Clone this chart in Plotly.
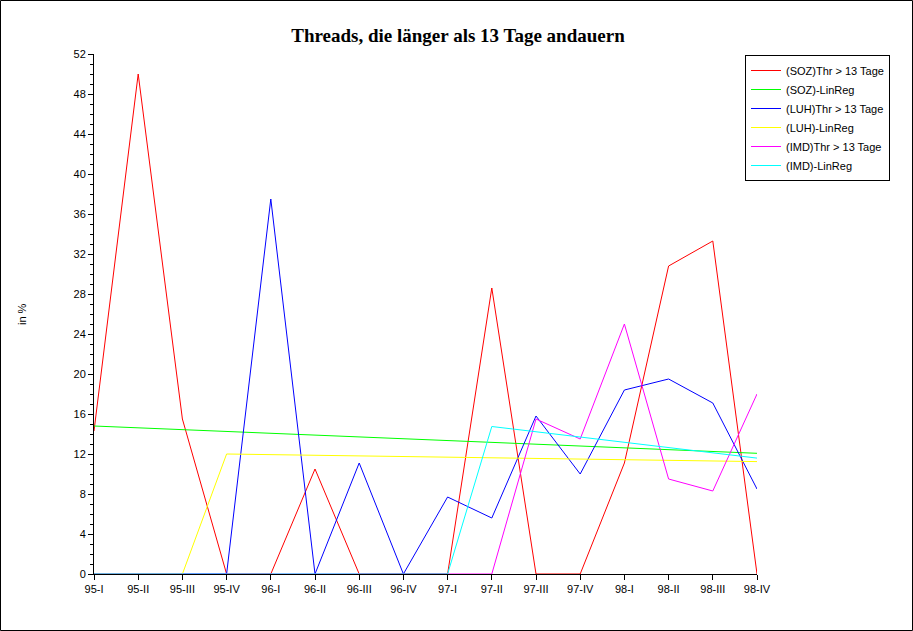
import plotly.graph_objects as go

quarters = ["95-I", "95-II", "95-III", "95-IV", "96-I", "96-II", "96-III", "96-IV",
            "97-I", "97-II", "97-III", "97-IV", "98-I", "98-II", "98-III", "98-IV"]

soz_thr = [14.3, 50.0, 15.5, 0, 0, 10.5, 0, 0, 0, 28.6, 0, 0, 11.1, 30.8, 33.3, 0]
soz_linreg = [14.8, 14.62, 14.44, 14.25, 14.07, 13.89, 13.71, 13.53,
              13.34, 13.16, 12.98, 12.80, 12.61, 12.43, 12.25, 12.07]
luh_thr = [0, 0, 0, 0, 37.5, 0, 11.1, 0, 7.7, 5.6, 15.8, 10.0, 18.4, 19.5, 17.1, 8.5]
luh_linreg = [0, 0, 0, 12.0, 11.94, 11.87, 11.81, 11.75, 11.68, 11.62,
              11.56, 11.49, 11.43, 11.37, 11.30, 11.24]
imd_thr = [0, 0, 0, 0, 0, 0, 0, 0, 0, 0, 15.5, 13.5, 25.0, 9.5, 8.3, 18.0]
imd_linreg = [0, 0, 0, 0, 0, 0, 0, 0, 0, 14.75, 14.22, 13.7, 13.17, 12.64, 12.12, 11.59]

series = [
    ("(SOZ)Thr > 13 Tage", soz_thr, "#FF0000"),
    ("(SOZ)-LinReg", soz_linreg, "#00FF00"),
    ("(LUH)Thr > 13 Tage", luh_thr, "#0000FF"),
    ("(LUH)-LinReg", luh_linreg, "#FFFF00"),
    ("(IMD)Thr > 13 Tage", imd_thr, "#FF00FF"),
    ("(IMD)-LinReg", imd_linreg, "#00FFFF"),
]

xs = list(range(len(quarters)))

fig = go.Figure()
for name, vals, color in series:
    fig.add_trace(go.Scatter(x=xs, y=vals, mode="lines", name=name,
                             line=dict(color=color, width=1)))

W, H = 913, 631
L, R, T, B = 94, 156, 54, 57
pw, ph = W - L - R, H - T - B

fig.update_layout(
    width=W, height=H,
    margin=dict(l=L, r=R, t=T, b=B, pad=0),
    paper_bgcolor="white", plot_bgcolor="white",
    title=dict(text="<b>Threads, die länger als 13 Tage andauern</b>",
               font=dict(family="Liberation Serif", size=19, color="black"),
               x=(458 - L) / pw, xref="paper", xanchor="center",
               y=1 - 35 / H, yanchor="middle"),
    font=dict(family="Liberation Sans", size=11, color="black"),
    showlegend=True,
    legend=dict(x=(890 - L) / pw, y=1 - (55 - T) / ph, xanchor="right", yanchor="top",
                bordercolor="black", borderwidth=1, bgcolor="white",
                font=dict(family="Liberation Sans", size=11, color="black"),
                itemwidth=30, tracegroupgap=0),
    xaxis=dict(range=[0, 15], tickvals=xs, ticktext=quarters,
               showgrid=False, zeroline=False, showline=True, linecolor="black",
               linewidth=1, ticks="outside", ticklen=5, tickcolor="black",
               tickfont=dict(size=11), layer="above traces"),
    yaxis=dict(range=[0, 52], dtick=4, tick0=0,
               showgrid=False, zeroline=False, showline=True, linecolor="black",
               linewidth=1, ticks="outside", ticklen=5, tickcolor="black",
               tickfont=dict(size=11), layer="above traces",
               minor=dict(dtick=1, ticks="outside", ticklen=3, tickcolor="black", showgrid=False)),
    annotations=[dict(text="in %", xref="paper", yref="paper",
                      x=(22 - L) / pw, y=(H - B - 314) / ph, textangle=-90,
                      showarrow=False, font=dict(size=11, color="black"),
                      xanchor="center", yanchor="middle")],
    shapes=[dict(type="rect", xref="paper", yref="paper",
                 x0=(0.5 - L) / pw, x1=(W - 0.5 - L) / pw,
                 y0=(H - B - (H - 0.5)) / ph, y1=(H - B - 0.5) / ph,
                 line=dict(color="black", width=1), fillcolor="rgba(0,0,0,0)")],
)

fig.write_html("out.html", config={"displayModeBar": False},
               post_script="document.body.style.margin='0';document.body.style.overflow='hidden';")
